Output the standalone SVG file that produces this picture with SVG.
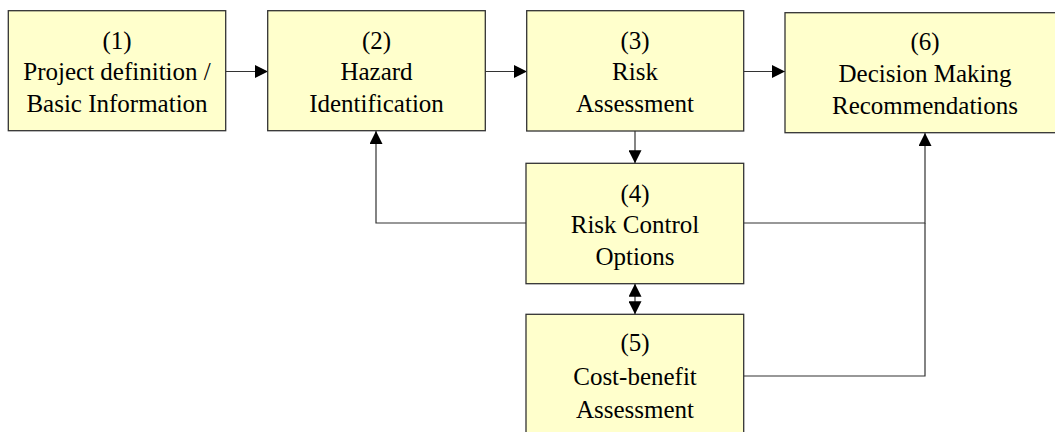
<svg xmlns="http://www.w3.org/2000/svg" width="1055" height="432" viewBox="0 0 1055 432">
<style>
.box{fill:#FFFFCC;stroke:#333;stroke-width:1.3}
.lbl{font-family:'Liberation Serif','Times New Roman',serif;font-size:25px;fill:#000;text-anchor:middle}
.con{fill:none;stroke:#333;stroke-width:1.2}
</style>
<defs>
<marker id="ah" markerUnits="userSpaceOnUse" markerWidth="13" markerHeight="13" refX="13" refY="6.5" orient="auto-start-reverse">
<path d="M0,0 L13,6.5 L0,13 z" fill="#000"/>
</marker>
</defs>
<rect width="1055" height="432" fill="#fff"/>
<g id="connectors">
<path class="con" d="M226,71.5 H268" marker-end="url(#ah)"/>
<path class="con" d="M485,71.5 H527" marker-end="url(#ah)"/>
<path class="con" d="M744,71.5 H785" marker-end="url(#ah)"/>
<path class="con" d="M635,131 V163.3" marker-end="url(#ah)"/>
<path class="con" d="M635,283.7 V314.3" marker-start="url(#ah)" marker-end="url(#ah)"/>
<path class="con" d="M526,223 H376 V131" marker-end="url(#ah)"/>
<path class="con" d="M744,223 H925 V133" marker-end="url(#ah)"/>
<path class="con" d="M744,376 H925 V223"/>
</g>
<g id="n1">
<rect class="box" x="8.3" y="10.7" width="217.4" height="120"/>
<text class="lbl" x="117" y="49">(1)</text>
<text class="lbl" x="117" y="80">Project definition /</text>
<text class="lbl" x="117" y="112">Basic Information</text>
</g>
<g id="n2">
<rect class="box" x="267.7" y="10.7" width="217.6" height="120"/>
<text class="lbl" x="376.5" y="49">(2)</text>
<text class="lbl" x="376.5" y="80">Hazard</text>
<text class="lbl" x="376.5" y="112">Identification</text>
</g>
<g id="n3">
<rect class="box" x="526.7" y="10.7" width="217" height="120.3"/>
<text class="lbl" x="635" y="49">(3)</text>
<text class="lbl" x="635" y="80">Risk</text>
<text class="lbl" x="635" y="112">Assessment</text>
</g>
<g id="n6">
<rect class="box" x="785" y="12.7" width="282" height="120"/>
<text class="lbl" x="925" y="49.5">(6)</text>
<text class="lbl" x="925" y="81.5">Decision Making</text>
<text class="lbl" x="925" y="114">Recommendations</text>
</g>
<g id="n4">
<rect class="box" x="526" y="163.3" width="217.7" height="120.4"/>
<text class="lbl" x="635" y="201.5">(4)</text>
<text class="lbl" x="635" y="232.5">Risk Control</text>
<text class="lbl" x="635" y="265">Options</text>
</g>
<g id="n5">
<rect class="box" x="526" y="314.3" width="217.7" height="120.4"/>
<text class="lbl" x="635" y="351">(5)</text>
<text class="lbl" x="635" y="385">Cost-benefit</text>
<text class="lbl" x="635" y="417.7">Assessment</text>
</g>
</svg>
